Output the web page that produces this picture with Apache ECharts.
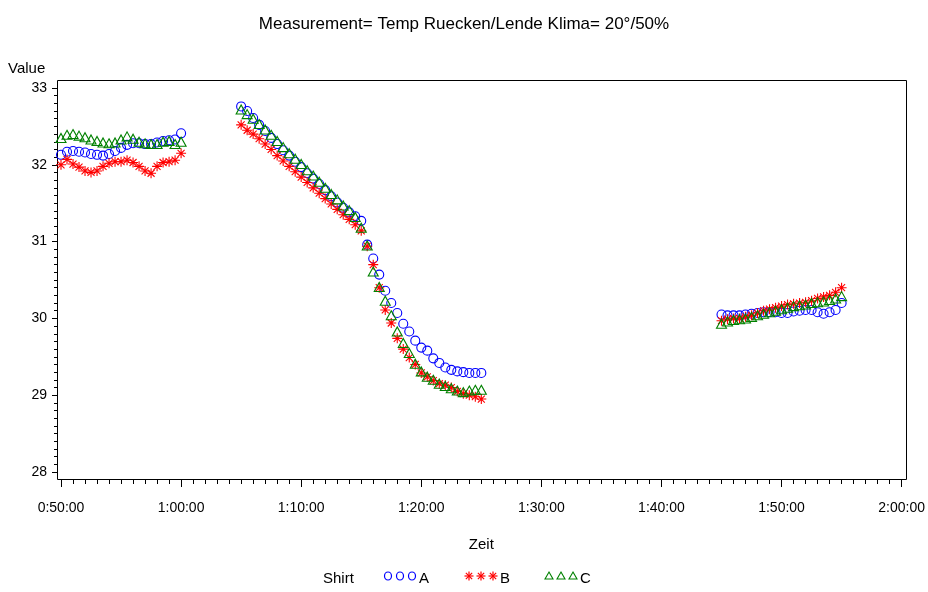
<!DOCTYPE html>
<html>
<head>
<meta charset="utf-8">
<script src="https://cdn.jsdelivr.net/npm/echarts@6/dist/echarts.min.js"></script>
<style>
  html, body { margin: 0; padding: 0; background: #ffffff; }
  #chart { width: 928px; height: 592px; }
</style>
</head>
<body>
<div id="chart"></div>
<script>
// Measurement blocks: each block starts at the given clock time, one reading every 30 s.
const segmentStarts = ['0:50:00', '1:05:00', '1:45:00'];
const sampleStepSeconds = 30;

// Shirt A
const shirtA1 = [32.13, 32.17, 32.18, 32.17, 32.16, 32.14, 32.13, 32.12, 32.14, 32.18, 32.22,
                 32.26, 32.28, 32.28, 32.27, 32.27, 32.29, 32.31, 32.32, 32.33, 32.41];
const shirtA2 = [32.76, 32.70, 32.61, 32.52, 32.44, 32.35, 32.27, 32.19, 32.12, 32.04, 31.97,
                 31.89, 31.82, 31.75, 31.67, 31.59, 31.51, 31.44, 31.38, 31.33, 31.27,
                 30.96, 30.78, 30.57, 30.36, 30.20, 30.07, 29.93, 29.83, 29.71, 29.62,
                 29.58, 29.48, 29.42, 29.36, 29.33, 29.31, 29.30, 29.29, 29.29, 29.29];
const shirtA3 = [30.05, 30.04, 30.04, 30.04, 30.05, 30.06, 30.07, 30.08, 30.08, 30.08, 30.07,
                 30.07, 30.09, 30.10, 30.11, 30.11, 30.08, 30.06, 30.08, 30.11, 30.20];

// Shirt B
const shirtB1 = [32.00, 32.07, 32.01, 31.97, 31.92, 31.90, 31.92, 31.98, 32.02, 32.04, 32.04,
                 32.06, 32.03, 31.98, 31.92, 31.89, 31.98, 32.03, 32.04, 32.06, 32.15];
const shirtB2 = [32.52, 32.45, 32.40, 32.34, 32.27, 32.20, 32.12, 32.05, 31.98, 31.91, 31.84,
                 31.77, 31.70, 31.63, 31.56, 31.49, 31.42, 31.35, 31.29, 31.22, 31.14,
                 30.94, 30.70, 30.40, 30.11, 29.94, 29.74, 29.60, 29.49, 29.40, 29.29,
                 29.24, 29.19, 29.15, 29.13, 29.10, 29.05, 29.02, 29.00, 28.98, 28.95];
const shirtB3 = [29.97, 29.99, 30.00, 30.00, 30.02, 30.04, 30.07, 30.10, 30.12, 30.14, 30.16,
                 30.18, 30.19, 30.20, 30.21, 30.23, 30.26, 30.28, 30.30, 30.34, 30.40];

// Shirt C
const shirtC1 = [32.35, 32.39, 32.40, 32.38, 32.36, 32.33, 32.31, 32.29, 32.28, 32.29, 32.33,
                 32.37, 32.34, 32.30, 32.28, 32.27, 32.27, 32.30, 32.31, 32.27, 32.30];
const shirtC2 = [32.72, 32.66, 32.60, 32.53, 32.46, 32.39, 32.31, 32.23, 32.15, 32.08, 32.01,
                 31.93, 31.86, 31.78, 31.70, 31.62, 31.55, 31.47, 31.41, 31.32, 31.18,
                 30.95, 30.61, 30.41, 30.23, 30.04, 29.83, 29.68, 29.55, 29.41, 29.31,
                 29.24, 29.20, 29.15, 29.12, 29.09, 29.06, 29.04, 29.06, 29.07, 29.07];
const shirtC3 = [29.93, 29.96, 29.98, 29.99, 30.00, 30.02, 30.04, 30.06, 30.08, 30.10, 30.12,
                 30.14, 30.16, 30.17, 30.18, 30.20, 30.21, 30.22, 30.24, 30.26, 30.29];

const shirtNames = ['A', 'B', 'C'];
const shirtColors = ['#0000ff', '#ff0000', '#008000'];

const FONT = "'Liberation Sans', Arial, Helvetica, sans-serif";

function toSeconds(s) {
  const p = s.split(':').map(Number);
  return p[0] * 3600 + p[1] * 60 + p[2];
}
function formatClock(sec) {
  const h = Math.floor(sec / 3600);
  const m = Math.floor((sec % 3600) / 60);
  const s = Math.round(sec % 60);
  return h + ':' + String(m).padStart(2, '0') + ':' + String(s).padStart(2, '0');
}
function buildPoints(blocks) {
  const pts = [];
  blocks.forEach(function (vals, i) {
    const t0 = toSeconds(segmentStarts[i]);
    vals.forEach(function (v, j) { pts.push([t0 + j * sampleStepSeconds, v]); });
  });
  return pts;
}

const asteriskPath = 'path://M0,5L10,5M5,0L5,10M1.5,1.5L8.5,8.5M8.5,1.5L1.5,8.5';
const markerSymbols = ['circle', asteriskPath, 'triangle'];
const markerSizes = [9, 10, [10, 9]];
const blocksByShirt = [
  [shirtA1, shirtA2, shirtA3],
  [shirtB1, shirtB2, shirtB3],
  [shirtC1, shirtC2, shirtC3]
];

const series = shirtNames.map(function (name, k) {
  return {
    name: name,
    type: 'scatter',
    data: buildPoints(blocksByShirt[k]),
    symbol: markerSymbols[k],
    symbolSize: markerSizes[k],
    itemStyle: { color: 'rgba(0,0,0,0)', borderColor: shirtColors[k], borderWidth: 1.1, opacity: 1 },
    emphasis: { disabled: true },
    animation: false
  };
});

// Legend drawn as three small markers plus the group letter
function legendGroup(k, x0, cy) {
  const col = shirtColors[k];
  const kids = [];
  for (let i = 0; i < 3; i++) {
    const cx = x0 + i * 12;
    if (k === 0) {
      kids.push({ type: 'ellipse', shape: { cx: cx, cy: cy, rx: 3.5, ry: 4 },
                  style: { fill: 'none', stroke: col, lineWidth: 1.2 } });
    } else if (k === 1) {
      const r = 4.5;
      [[-r, 0, r, 0], [0, -r, 0, r], [-r * 0.7, -r * 0.7, r * 0.7, r * 0.7], [r * 0.7, -r * 0.7, -r * 0.7, r * 0.7]]
        .forEach(function (l) {
          kids.push({ type: 'line', shape: { x1: cx + l[0], y1: cy + l[1], x2: cx + l[2], y2: cy + l[3] },
                      style: { stroke: col, lineWidth: 1.2 } });
        });
    } else {
      kids.push({ type: 'polygon', shape: { points: [[cx, cy - 4], [cx + 4, cy + 3], [cx - 4, cy + 3]] },
                  style: { fill: 'none', stroke: col, lineWidth: 1.1 } });
    }
  }
  kids.push({ type: 'text', x: x0 + 31, y: cy + 3,
              style: { text: shirtNames[k], font: '15px ' + FONT, fill: '#000', verticalAlign: 'middle', align: 'left' } });
  return kids;
}

const graphics = [
  // plot frame
  { type: 'rect', shape: { x: 57.5, y: 80.5, width: 849, height: 399 },
    style: { fill: 'none', stroke: '#000', lineWidth: 1 }, silent: true, z: 0 },
  { type: 'text', left: 8, top: 61,
    style: { text: 'Value', font: '15px ' + FONT, fill: '#000' } },
  { type: 'text', x: 323, y: 579,
    style: { text: 'Shirt', font: '15px ' + FONT, fill: '#000', verticalAlign: 'middle' } }
];
[388, 469, 549].forEach(function (x0, k) {
  legendGroup(k, x0, 576).forEach(function (el) { graphics.push(el); });
});

const chart = echarts.init(document.getElementById('chart'), null, { renderer: 'canvas' });
chart.setOption({
  backgroundColor: '#ffffff',
  animation: false,
  title: {
    text: 'Measurement= Temp Ruecken/Lende Klima= 20°/50%',
    left: 'center',
    top: 11,
    textStyle: { fontFamily: FONT, fontSize: 17, fontWeight: 'normal', color: '#000' }
  },
  grid: { left: 61, right: 25, top: 88, bottom: 120, containLabel: false },
  xAxis: {
    type: 'value',
    min: toSeconds('0:50:00'),
    max: toSeconds('2:00:00'),
    interval: 600,
    offset: 8,
    name: 'Zeit',
    nameLocation: 'middle',
    nameGap: 57,
    nameTextStyle: { fontFamily: FONT, fontSize: 15, color: '#000' },
    axisLine: { show: false },
    axisTick: { show: true, length: 7, lineStyle: { color: '#000' } },
    minorTick: { show: true, splitNumber: 10, length: 4, lineStyle: { color: '#000' } },
    splitLine: { show: false },
    axisLabel: { formatter: formatClock, fontFamily: FONT, fontSize: 14, color: '#000', margin: 21 }
  },
  yAxis: {
    type: 'value',
    min: 28,
    max: 33,
    interval: 1,
    offset: 4,
    axisLine: { show: false },
    axisTick: { show: true, length: 5, lineStyle: { color: '#000' } },
    minorTick: { show: true, splitNumber: 10, length: 3, lineStyle: { color: '#000' } },
    splitLine: { show: false },
    axisLabel: { fontFamily: FONT, fontSize: 14, color: '#000', margin: 10 }
  },
  graphic: graphics,
  series: series
});
</script>
</body>
</html>
